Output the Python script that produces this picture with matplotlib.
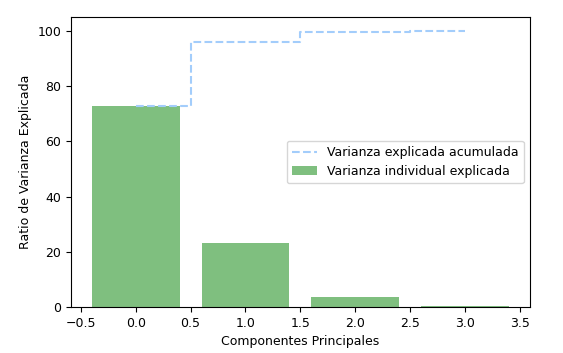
import numpy as np
import matplotlib
matplotlib.use('Agg')
import matplotlib.pyplot as plt

plt.rcParams['font.size'] = 9

componentes = [0, 1, 2, 3]
var_exp = [72.77, 23.03, 3.68, 0.52]
cum_var_exp = [72.77, 95.80, 99.48, 100.0]

fig = plt.figure(figsize=(5.63, 3.53), dpi=100)
ax = fig.add_axes([0.126, 0.130, 0.815, 0.822])

ax.bar(componentes, var_exp, alpha=0.5, align='center', color='g',
       label='Varianza individual explicada')
ax.step(componentes, cum_var_exp, where='mid', linestyle='--', color='#a3cdfb',
        label='Varianza explicada acumulada')
ax.set_ylabel('Ratio de Varianza Explicada')
ax.set_xlabel('Componentes Principales')
ax.legend(loc='center right')

fig.savefig('out.png', dpi=100)
